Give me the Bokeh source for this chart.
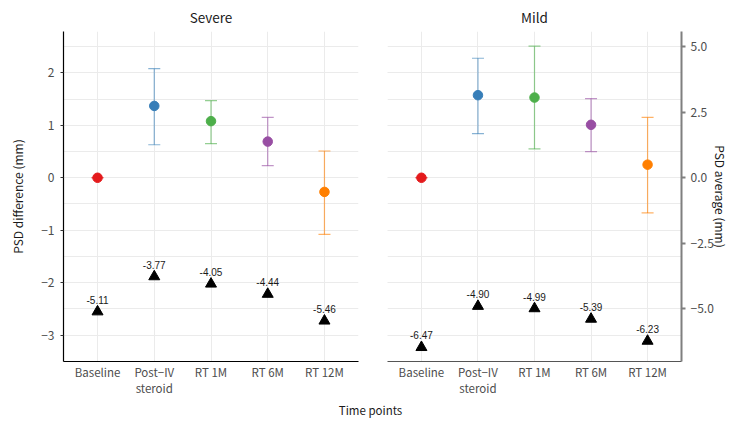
from bokeh.plotting import figure
from bokeh.models import (Range1d, FactorRange, LinearAxis, FixedTicker, Grid,
                          ColumnDataSource, Label)
from bokeh.layouts import row, column
from bokeh.embed import file_html
from bokeh.resources import INLINE
from bokeh.core.properties import value

# ---------------- data ----------------
categories = ["Baseline", "Post\u2212IV\nsteroid", "RT 1M", "RT 6M", "RT 12M"]
colors = ["#E41A1C", "#377EB8", "#4DAF4A", "#984EA3", "#FF7F00"]

severe_diff = [0.0, 1.37, 1.08, 0.69, -0.27]
severe_lo = [0.0, 0.63, 0.65, 0.23, -1.08]
severe_hi = [0.0, 2.08, 1.47, 1.15, 0.51]
severe_avg = [-5.11, -3.77, -4.05, -4.44, -5.46]

mild_diff = [0.0, 1.575, 1.53, 1.01, 0.25]
mild_lo = [0.0, 0.84, 0.55, 0.50, -0.67]
mild_hi = [0.0, 2.28, 2.51, 1.51, 1.15]
mild_avg = [-6.47, -4.90, -4.99, -5.39, -6.23]

diff_ticks = [-3, -2, -1, 0, 1, 2]
diff_minor = [-3.5, -2.5, -1.5, -0.5, 0.5, 1.5, 2.5]
avg_ticks = [-5.0, -2.5, 0.0, 2.5, 5.0]
diff_range = (-3.505, 2.79)
avg_factor = 2.0

FONT = "Noto Sans CJK KR"
LBL_FONT = "Liberation Sans"
TICK_COLOR = "#4D4D4D"
GRID_COLOR = "#EBEBEB"


def minus(v, fmt):
    s = fmt.format(v)
    return s.replace("-", "\u2212")


def make_panel(title, diff, lo, hi, avg, left):
    p = figure(
        x_range=FactorRange(factors=categories, range_padding=0.1,
                            range_padding_units="absolute"),
        y_range=Range1d(*diff_range),
        frame_width=295 if left else 294, frame_height=330,
        min_border_left=63 if left else 17,
        min_border_right=12 if left else 46,
        min_border_top=21, min_border_bottom=38,
        toolbar_location=None, output_backend="svg",
        y_axis_location="left" if left else None,
        background_fill_color="white", border_fill_color="white",
    )
    p.extra_y_ranges = {"avg": Range1d(diff_range[0] * avg_factor,
                                       diff_range[1] * avg_factor)}
    p.outline_line_color = None

    p.title.text = title
    p.title.align = "center"
    p.title.text_font = FONT
    p.title.text_font_size = "13.5px"
    p.title.text_font_style = "normal"
    p.title.text_color = "#1A1A1A"
    p.title.standoff = 9

    # x axis
    xa = p.xaxis[0]
    xa.axis_line_color = "black" if left else "#555555"
    xa.axis_line_width = 1.2
    xa.major_tick_line_color = None
    xa.minor_tick_line_color = None
    xa.major_label_text_font = FONT
    xa.major_label_text_font_size = "11.5px"
    xa.major_label_text_color = TICK_COLOR
    xa.major_label_text_line_height = 1.0
    xa.major_label_standoff = -4
    p.xgrid.grid_line_color = GRID_COLOR
    p.xgrid.grid_line_width = 1

    ticker = FixedTicker(ticks=diff_ticks, minor_ticks=diff_minor)
    if left:
        ya = p.yaxis[0]
        ya.ticker = ticker
        ya.major_label_overrides = {t: minus(t, "{:d}") for t in diff_ticks}
        ya.axis_line_color = "black"
        ya.axis_line_width = 1.2
        ya.major_tick_line_color = "#333333"
        ya.major_tick_out = 3
        ya.major_tick_in = 0
        ya.minor_tick_line_color = None
        ya.major_label_text_font = FONT
        ya.major_label_text_font_size = "12px"
        ya.major_label_text_color = TICK_COLOR
        ya.axis_label = "PSD difference (mm)"
        ya.axis_label_text_font = FONT
        ya.axis_label_text_font_size = "12px"
        ya.axis_label_text_font_style = "normal"
        ya.axis_label_text_color = "#1A1A1A"
        ya.axis_label_standoff = 12
        p.ygrid.grid_line_color = GRID_COLOR
        p.ygrid.minor_grid_line_color = GRID_COLOR
    else:
        g = Grid(dimension=1, ticker=ticker, grid_line_color=GRID_COLOR,
                 minor_grid_line_color=GRID_COLOR)
        p.add_layout(g)
        ra = LinearAxis(y_range_name="avg",
                        ticker=FixedTicker(ticks=avg_ticks))
        ra.major_label_overrides = {t: minus(t, "{:.1f}") for t in avg_ticks}
        ra.axis_line_color = "#7F7F7F"
        ra.axis_line_width = 2
        ra.major_tick_line_color = "#7F7F7F"
        ra.major_tick_line_width = 2
        ra.major_tick_out = 4
        ra.major_tick_in = 0
        ra.minor_tick_line_color = None
        ra.major_label_text_font = FONT
        ra.major_label_text_font_size = "12px"
        ra.major_label_text_color = TICK_COLOR
        ra.axis_label = "PSD average (mm)"
        ra.axis_label_text_font = FONT
        ra.axis_label_text_font_size = "12px"
        ra.axis_label_text_font_style = "normal"
        ra.axis_label_text_color = "#1A1A1A"
        ra.axis_label_standoff = -5
        p.add_layout(ra, "right")

    src = ColumnDataSource(dict(x=categories, y=diff, lo=lo, hi=hi,
                                color=colors, avg=avg,
                                lab=["{:.2f}".format(a) for a in avg]))
    # error bars
    p.segment(x0="x", y0="lo", x1="x", y1="hi", source=src,
              line_color="color", line_alpha=0.6, line_width=1.2)
    p.scatter(x="x", y="hi", source=src, marker="dash", size=12,
              line_color="color", line_alpha=0.6, line_width=1.2)
    p.scatter(x="x", y="lo", source=src, marker="dash", size=12,
              line_color="color", line_alpha=0.6, line_width=1.2)
    # points
    p.scatter(x="x", y="y", source=src, size=9.5, fill_color="color",
              line_color="color")
    # averages (secondary axis)
    p.scatter(x="x", y="avg", source=src, marker="triangle", size=11,
              fill_color="black", line_color="black", y_range_name="avg")
    p.text(x="x", y="avg", text="lab", source=src, y_range_name="avg",
           text_align="center", text_baseline="bottom", y_offset=-8,
           text_font=value(LBL_FONT), text_font_size="10px",
           text_color="#1A1A1A")
    return p


p1 = make_panel("Severe", severe_diff, severe_lo, severe_hi, severe_avg, True)
p2 = make_panel("Mild", mild_diff, mild_lo, mild_hi, mild_avg, False)

p3 = figure(width=727, height=24, toolbar_location=None, output_backend="svg",
            x_range=Range1d(0, 727), y_range=Range1d(0, 24),
            min_border=0, x_axis_location=None, y_axis_location=None)
p3.outline_line_color = None
p3.xgrid.grid_line_color = None
p3.ygrid.grid_line_color = None
p3.add_layout(Label(x=370, y=14, text="Time points", text_align="center",
                    text_baseline="middle", text_font=FONT,
                    text_font_size="11.5px", text_color="#1A1A1A"))

layout = column(row(p1, p2), p3)
open("out.html", "w").write(file_html(layout, INLINE))
